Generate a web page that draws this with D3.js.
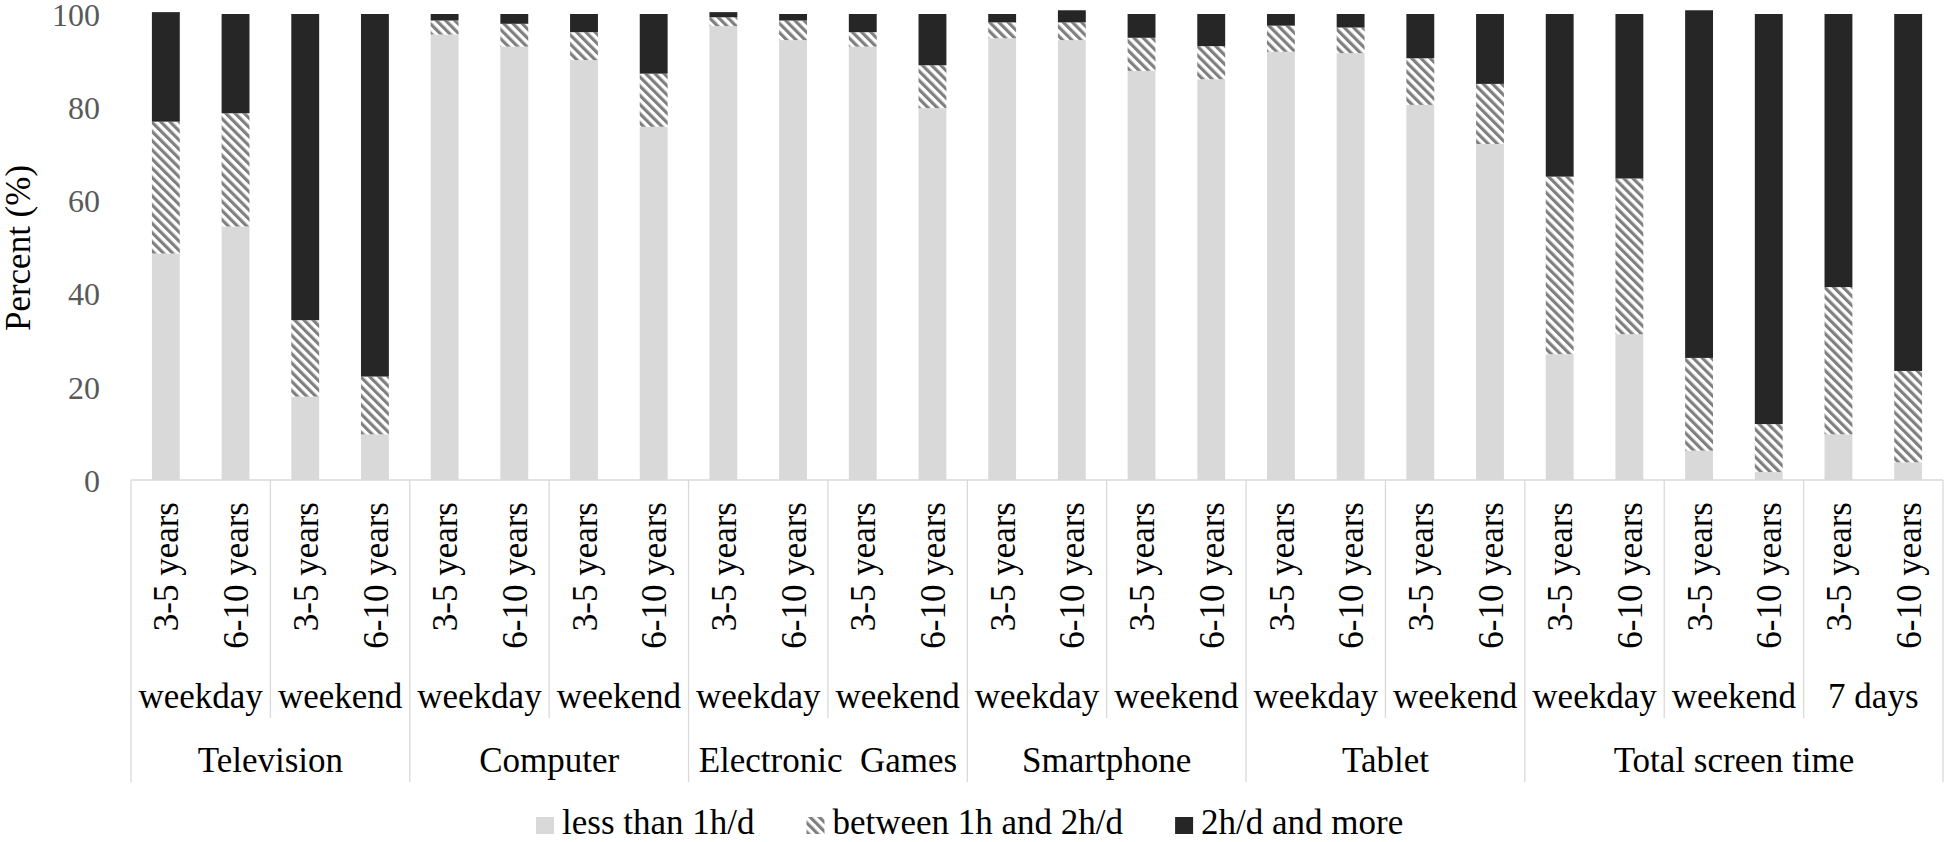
<!DOCTYPE html>
<html>
<head>
<meta charset="utf-8">
<script src="https://cdn.jsdelivr.net/npm/d3@7"></script>
<style>
  html, body { margin: 0; padding: 0; background: #fff; }
  svg { display: block; }
  svg text { font-family: "Liberation Serif", "Times New Roman", Times, "DejaVu Serif", serif !important; }
</style>
</head>
<body>
<svg id="chart" width="1946" height="842"></svg>
<script>
// ---------- data ----------
const devices = ["Television", "Computer", "Electronic  Games", "Smartphone", "Tablet", "Total screen time"];
const periodsByDevice = [
  ["weekday", "weekend"],
  ["weekday", "weekend"],
  ["weekday", "weekend"],
  ["weekday", "weekend"],
  ["weekday", "weekend"],
  ["weekday", "weekend", "7 days"]
];
const ageGroups = ["3-5 years", "6-10 years"];
const seriesNames = ["less than 1h/d", "between 1h and 2h/d", "2h/d and more"];

// one value per bar, in order device > period > age group
const lessThan1h = [48.6, 54.4, 17.9, 9.8,  95.6, 93.0, 90.1, 75.8,  97.4, 94.4, 93.0, 79.8,
                    94.8, 94.4, 87.8, 86.0,  91.9, 91.6, 80.5, 72.1,  27.0, 31.3, 6.3, 1.7, 9.8, 3.8];
const between1hAnd2h = [28.3, 24.3, 16.4, 12.4,  3.0, 4.9, 6.0, 11.4,  1.9, 4.2, 3.1, 9.2,
                        3.4, 3.8, 7.1, 7.1,  5.6, 5.5, 10.0, 12.9,  38.1, 33.4, 19.9, 10.3, 31.6, 19.6];
const twoHoursAndMore = [23.5, 21.3, 65.7, 77.8,  1.4, 2.1, 3.9, 12.8,  1.1, 1.4, 3.9, 11.0,
                         1.8, 2.6, 5.1, 6.9,  2.5, 2.9, 9.5, 15.0,  34.9, 35.3, 74.6, 88.0, 58.6, 76.6];
const yTicks = [0, 20, 40, 60, 80, 100];
const yTitle = "Percent (%)";

// ---------- build rows ----------
const rows = [];
const periodSpans = [];
const deviceSpans = [];
devices.forEach((dev, di) => {
  const dStart = rows.length;
  periodsByDevice[di].forEach(per => {
    const pStart = rows.length;
    ageGroups.forEach(age => {
      const i = rows.length;
      rows.push({ idx: i, device: dev, period: per, age: age,
        s0: lessThan1h[i], s1: between1hAnd2h[i], s2: twoHoursAndMore[i] });
    });
    periodSpans.push({ label: per, start: pStart, end: rows.length - 1, device: di });
  });
  deviceSpans.push({ label: dev, start: dStart, end: rows.length - 1 });
});

const FONT = "'Liberation Serif', 'Times New Roman', Times, 'DejaVu Serif', serif";

// ---------- scales ----------
const svg = d3.select("#chart").attr("font-family", FONT);
const x = d3.scaleBand().domain(rows.map(r => r.idx)).range([131, 1943])
  .paddingInner(0.6).paddingOuter(0.3);
const y = d3.scaleLinear().domain([0, 100]).range([480, 14]);
const edge = i => (i < rows.length ? x(i) : x(rows.length - 1) + x.step()) - (x.step() - x.bandwidth()) / 2;

// ---------- pattern ----------
const defs = svg.append("defs");
const pat = defs.append("pattern").attr("id", "hatch")
  .attr("patternUnits", "userSpaceOnUse").attr("width", 6.5).attr("height", 6.5)
  .attr("patternTransform", "rotate(-45)");
pat.append("rect").attr("width", 6.5).attr("height", 6.5).attr("fill", "#ffffff");
pat.append("rect").attr("width", 3.2).attr("height", 6.5).attr("fill", "#7f7f7f");

const fills = ["#d9d9d9", "url(#hatch)", "#262626"];

// ---------- bars ----------
const stack = d3.stack().keys(["s0", "s1", "s2"]);
const series = stack(rows);
svg.append("g").selectAll("g").data(series).join("g")
  .attr("fill", (d, i) => fills[i])
  .selectAll("rect").data(d => d).join("rect")
  .attr("x", d => x(d.data.idx))
  .attr("width", x.bandwidth())
  .attr("y", d => y(d[1]))
  .attr("height", d => y(d[0]) - y(d[1]));

// ---------- y axis ----------
const yAxis = svg.append("g").attr("transform", "translate(100,0)")
  .call(d3.axisLeft(y).tickValues(yTicks).tickSize(0).tickPadding(0).tickFormat(d3.format("d")));
yAxis.attr("font-family", FONT);
yAxis.select(".domain").remove();
yAxis.selectAll("text")
  .attr("font-size", 32).attr("fill", "#595959").attr("dy", "0.35em");

svg.append("text")
  .attr("transform", "translate(30,248) rotate(-90)")
  .attr("text-anchor", "middle")
  .attr("font-size", 35).attr("fill", "#000")
  .text(yTitle);

// ---------- x axis lines ----------
const lineColor = "#d9d9d9";
svg.append("line").attr("x1", edge(0)).attr("x2", edge(rows.length))
  .attr("y1", y(0)).attr("y2", y(0)).attr("stroke", lineColor).attr("stroke-width", 1.3);

const gLines = svg.append("g").attr("stroke", lineColor).attr("stroke-width", 1.3);
periodSpans.forEach(p => {
  if (p.start !== deviceSpans[p.device].start) {
    gLines.append("line").attr("x1", edge(p.start)).attr("x2", edge(p.start))
      .attr("y1", y(0)).attr("y2", 718);
  }
});
deviceSpans.forEach(d => {
  gLines.append("line").attr("x1", edge(d.start)).attr("x2", edge(d.start))
    .attr("y1", y(0)).attr("y2", 782);
});
gLines.append("line").attr("x1", edge(rows.length)).attr("x2", edge(rows.length))
  .attr("y1", y(0)).attr("y2", 782);

// ---------- x labels ----------
svg.append("g").selectAll("text").data(rows).join("text")
  .attr("transform", d => `translate(${x(d.idx) + x.bandwidth() / 2},502) rotate(-90)`)
  .attr("text-anchor", "end").attr("dy", "0.36em")
  .attr("font-size", 35).attr("fill", "#000")
  .text(d => d.age);

svg.append("g").selectAll("text").data(periodSpans).join("text")
  .attr("x", d => (edge(d.start) + edge(d.end + 1)) / 2)
  .attr("y", 708)
  .attr("text-anchor", "middle").attr("font-size", 35).attr("fill", "#000")
  .text(d => d.label);

svg.append("g").selectAll("text").data(deviceSpans).join("text")
  .attr("x", d => (edge(d.start) + edge(d.end + 1)) / 2)
  .attr("y", 772)
  .style("white-space", "pre").attr("xml:space", "preserve")
  .attr("text-anchor", "middle").attr("font-size", 35).attr("fill", "#000")
  .text(d => d.label);

// ---------- legend ----------
const legend = svg.append("g");
let lx = 536;
seriesNames.forEach((name, i) => {
  legend.append("rect").attr("x", lx).attr("y", 817).attr("width", 18).attr("height", 17)
    .attr("fill", fills[i]);
  const t = legend.append("text").attr("x", lx + 26).attr("y", 834)
    .attr("font-size", 35).attr("fill", "#000").text(name);
  lx = lx + 26 + t.node().getComputedTextLength() + 52;
});
</script>
</body>
</html>
